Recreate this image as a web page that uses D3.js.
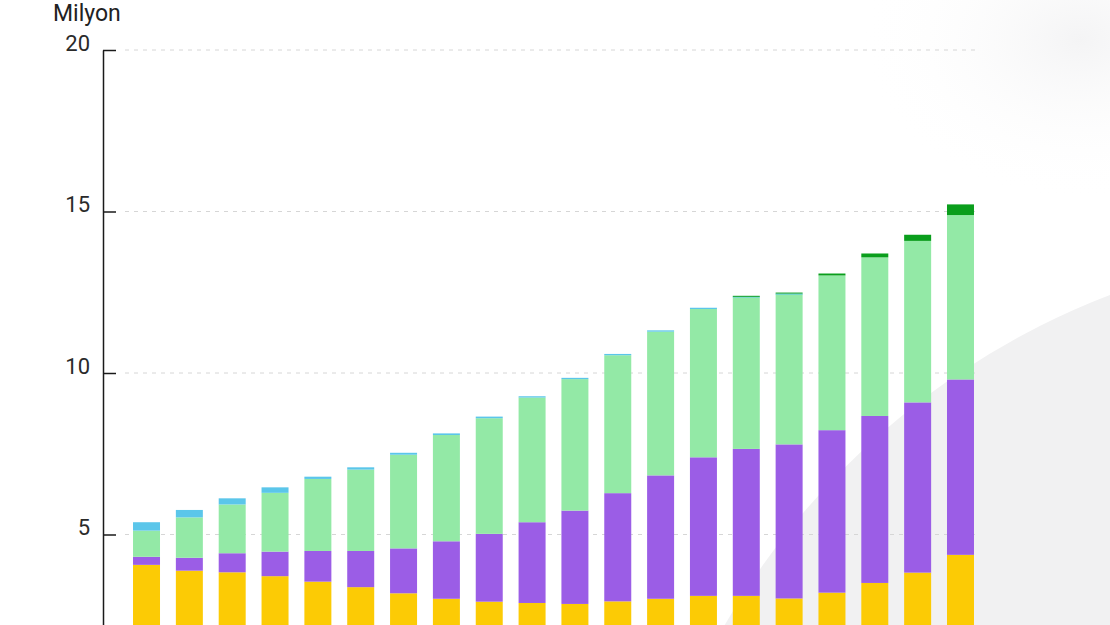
<!DOCTYPE html>
<html><head><meta charset="utf-8">
<script src="https://cdn.jsdelivr.net/npm/d3@7"></script>
<style>html,body{margin:0;padding:0;background:#fff;overflow:hidden}svg{display:block}</style>
</head><body>
<svg id="c" width="1110" height="625"></svg>
<script>
const years = [2004,2005,2006,2007,2008,2009,2010,2011,2012,2013,2014,2015,2016,2017,2018,2019,2020,2021,2022,2023];
const benzin = [4.06,3.88,3.83,3.71,3.54,3.37,3.18,3.01,2.92,2.88,2.85,2.93,3.01,3.10,3.10,3.02,3.20,3.50,3.82,4.37];
const lpg = [0.25,0.40,0.59,0.76,0.95,1.12,1.39,1.78,2.10,2.50,2.89,3.35,3.82,4.29,4.55,4.77,5.03,5.17,5.27,5.43];
const dizel = [0.81,1.25,1.51,1.82,2.23,2.52,2.90,3.29,3.58,3.86,4.07,4.27,4.45,4.59,4.70,4.66,4.79,4.91,5.00,5.09];
const bilinmeyen = [0.26,0.23,0.19,0.17,0.07,0.07,0.06,0.05,0.05,0.04,0.04,0.04,0.04,0.04,0.02,0.01,0,0,0,0];
const hibritElektrik = [0,0,0,0,0,0,0,0,0,0,0,0,0,0,0.02,0.03,0.06,0.12,0.19,0.33];
const yTicks = [5,10,15,20];
const unitLabel = "Milyon";

const keys = ["benzin","lpg","dizel","bilinmeyen","hibrit"];
const colors = {benzin:"#fccb05", lpg:"#9b5de6", dizel:"#93e9a6", bilinmeyen:"#5bc6ea", hibrit:"#0a9e1c"};
const rows = years.map((y,i)=>({year:y, benzin:benzin[i], lpg:lpg[i], dizel:dizel[i], bilinmeyen:bilinmeyen[i], hibrit:hibritElektrik[i]}));

const svg = d3.select("#c");
const defs = svg.append("defs");
const rg = defs.append("radialGradient").attr("id","tr").attr("cx","0.5").attr("cy","0.5").attr("r","0.5");
rg.append("stop").attr("offset","0%").attr("stop-color","#f4f4f5");
rg.append("stop").attr("offset","100%").attr("stop-color","#ffffff").attr("stop-opacity",0);
svg.append("ellipse").attr("cx",1080).attr("cy",40).attr("rx",220).attr("ry",160).attr("fill","url(#tr)");
svg.append("circle").attr("cx",1380).attr("cy",1000).attr("r",755).attr("fill","#f1f1f2");

const y = d3.scaleLinear().domain([0,20]).range([696,50]);
const x = d3.scaleBand().domain(years).range([111.6,995.4]).paddingInner(0.37).paddingOuter(0.5);

// grid
svg.append("g").selectAll("line").data(yTicks).join("line")
  .attr("x1",125).attr("x2",975).attr("y1",d=>y(d)).attr("y2",d=>y(d))
  .attr("stroke","#d6d6d6").attr("stroke-width",1).attr("stroke-dasharray","4,5");

// bars
const stack = d3.stack().keys(keys)(rows);
svg.append("g").selectAll("g").data(stack).join("g")
  .attr("fill",d=>colors[d.key])
  .selectAll("rect").data(d=>d.filter(p=>p[1]-p[0]>0)).join("rect")
  .attr("x",d=>x(d.data.year)).attr("width",x.bandwidth())
  .attr("y",d=>y(d[1])).attr("height",d=>Math.max(1,y(d[0])-y(d[1])));

// y axis
const ya = svg.append("g").attr("transform","translate(103,0)")
  .call(d3.axisLeft(y).tickValues(yTicks).tickSizeInner(-13).tickSizeOuter(0).tickPadding(13));
ya.select(".domain").attr("stroke","#1a1a1a").attr("stroke-width",1.5);
ya.selectAll(".tick line").attr("stroke","#1a1a1a").attr("stroke-width",1.5);
ya.selectAll(".tick text").attr("font-family","Roboto, sans-serif").attr("font-size",22)
  .attr("fill","#2a2a2a").attr("dy","0");

svg.append("text").attr("x",53).attr("y",21).text(unitLabel)
  .attr("font-family","Roboto, sans-serif").attr("font-size",23).attr("fill","#222");
</script>
</body></html>
